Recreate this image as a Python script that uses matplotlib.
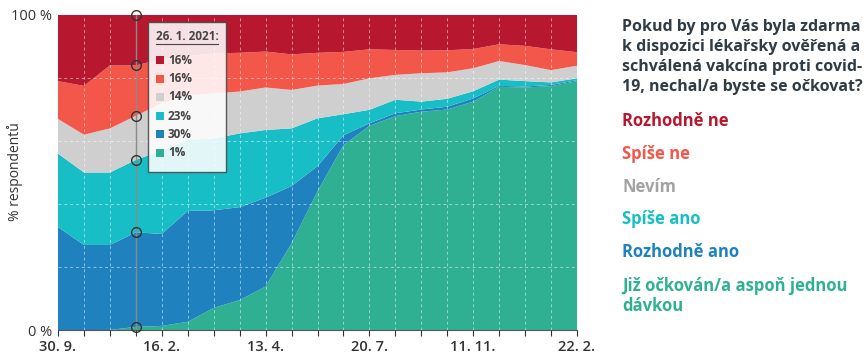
import matplotlib
matplotlib.use("Agg")
import matplotlib.pyplot as plt
from matplotlib.patches import Rectangle
import numpy as np

# ---------------- data ----------------
tick_labels = ["30. 9.", "16. 2.", "13. 4.", "20. 7.", "11. 11.", "22. 2."]
tick_idx = [0, 4, 8, 12, 16, 20]

vaccinated   = [0, 0, 0, 1, 1.3, 2.6, 7, 9.5, 13.8, 27.5, 44, 58.7, 64.8, 67.9, 69.3, 70, 72.5, 77.2, 77, 77.4, 79]
rozhodne_ano = [32.7, 27, 27, 30, 29.2, 35.2, 31, 29.5, 28.2, 18.2, 8, 3.1, 0.8, 0.9, 0.7, 0.9, 1, 0.3, 0.3, 0.4, 0.3]
spise_ano    = [23.3, 23, 23, 23, 26.5, 22.5, 22.8, 23.4, 21.5, 18.3, 15.2, 6.7, 4.3, 4.3, 2.5, 2.5, 2.3, 2, 1.7, 0.8, 0.6]
nevim        = [11, 12, 14, 14, 15, 14.3, 14.3, 13.3, 13.5, 12.2, 10.4, 9.6, 10, 7.9, 9, 8.4, 7.3, 5.9, 5.1, 3.9, 4]
spise_ne     = [12, 15.5, 20, 16, 14, 12.4, 12.7, 12.3, 11.4, 11.3, 10.4, 10.2, 9.2, 7.9, 7.2, 7, 6.1, 5.3, 6.1, 6.6, 4.3]
rozhodne_ne  = [21, 22.5, 16, 16, 14, 13, 12.2, 12, 11.6, 12.5, 12, 11.7, 10.9, 11.1, 11.3, 11.2, 10.8, 9.3, 9.8, 10.9, 11.8]

series_names = ["Rozhodně ne", "Spíše ne", "Nevím", "Spíše ano", "Rozhodně ano",
                "Již očkován/a aspoň jednou\ndávkou"]
tooltip_date = "26. 1. 2021:"
tooltip_idx = 3
tooltip_values = ["16%", "16%", "14%", "23%", "30%", "1%"]

colors = {
    "rn": "#b8182f",
    "sn": "#f3574a",
    "nv": "#cfcfcf",
    "sa": "#17bec5",
    "ra": "#1f82bf",
    "vx": "#30b092",
}
label_colors = ["#b8182f", "#f3574a", "#a3a3a3", "#17bec5", "#1f82bf", "#30b092"]
series_colors = [colors["rn"], colors["sn"], colors["nv"], colors["sa"], colors["ra"], colors["vx"]]

plt.rcParams['font.family'] = ['Open Sans', 'DejaVu Sans']

fig = plt.figure(figsize=(8.66, 3.58), dpi=100)
ax = fig.add_axes([58/866, 1-330/358, (577-58)/866, (330-15)/358])

x = np.arange(len(vaccinated))
stack = [vaccinated, rozhodne_ano, spise_ano, nevim, spise_ne, rozhodne_ne]
stack_colors = [colors["vx"], colors["ra"], colors["sa"], colors["nv"], colors["sn"], colors["rn"]]
ax.stackplot(x, *stack, colors=stack_colors, linewidth=0, zorder=1)

ax.set_xlim(0, 20)
ax.set_ylim(0, 100)

# grid
for xi in x[1:-1]:
    ax.axvline(xi, color="white", lw=0.7, ls=(0, (3, 3)), alpha=0.5, zorder=2)
for yi in [20, 40, 60, 80]:
    ax.axhline(yi, color="white", lw=0.7, ls=(0, (3, 3)), alpha=0.5, zorder=2)

for s in ["top", "right", "left"]:
    ax.spines[s].set_visible(False)
ax.spines["bottom"].set_color("#555555")
ax.spines["bottom"].set_linewidth(0.8)

ax.set_xticks(x)
ax.set_xticklabels([tick_labels[tick_idx.index(i)] if i in tick_idx else "" for i in x],
                   fontsize=10.5, fontweight="semibold", color="#333333")
ax.tick_params(axis="x", length=4, width=0.8, color="#333333", pad=3)
ax.set_yticks([0, 100])
ax.set_yticklabels(["0 %", "100 %"], fontsize=10.5, color="#333333")
ax.tick_params(axis="y", length=0, pad=4)
fig.text(15/866, 1-172/358, "% respondentů", fontsize=10, color="#333333",
         rotation=90, ha="center", va="center")

# hover line + markers
cum = np.cumsum(np.array(stack), axis=0)[:, tooltip_idx]
ax.axvline(tooltip_idx, color="#8a8a8a", lw=1.0, zorder=3)
ax.plot([tooltip_idx]*len(cum), cum, "o", mfc="none", mec="#333333", ms=7, mew=1,
        zorder=4, clip_on=False)

# tooltip
x0, x1 = (148-58)/25.95, (226-58)/25.95
y0, y1 = (330-172)/3.15, (330-22)/3.15
ax.add_patch(Rectangle((x0, y0), x1-x0, y1-y0, facecolor="white", alpha=0.87,
                       edgecolor="#444444", lw=1.0, zorder=5))
ax.text((156-58)/25.95, (330-37)/3.15, tooltip_date, fontsize=8.5, fontweight="bold",
        color="#444444", va="center", ha="left", zorder=6)
ax.plot([(156-58)/25.95, (218-58)/25.95], [(330-44)/3.15]*2, color="#444444", lw=0.8, zorder=6)
ys = [60, 79, 97, 116, 134, 153]
for yy, c, v in zip(ys, series_colors, tooltip_values):
    ax.add_patch(Rectangle(((156-58)/25.95, (330-yy-4)/3.15), 8/25.95, 8/3.15,
                           facecolor=c, edgecolor="none", zorder=6))
    ax.text((168-58)/25.95, (330-yy)/3.15, v, fontsize=8.5, fontweight="bold",
            color="#444444", va="center", ha="left", zorder=6)

# right-hand text
title = ("Pokud by pro Vás byla zdarma\nk dispozici lékařsky ověřená a\n"
         "schválená vakcína proti covid-\n19, nechal/a byste se očkovat?")
fig.text(622/866, 1-19/358, title, fontsize=11.5, fontweight="bold", color="#2f3b45",
         va="top", ha="left", linespacing=1.32)
label_y = [121, 154, 187, 219, 252, 277]
for name, yy, c in zip(series_names, label_y, label_colors):
    if "\n" in name:
        fig.text(622/866, 1-yy/358, name, fontsize=12, fontweight="bold", color=c,
                 va="top", ha="left", linespacing=1.15)
    else:
        fig.text(622/866, 1-yy/358, name, fontsize=12, fontweight="bold", color=c,
                 va="center", ha="left")

fig.savefig("out.png", dpi=100)
